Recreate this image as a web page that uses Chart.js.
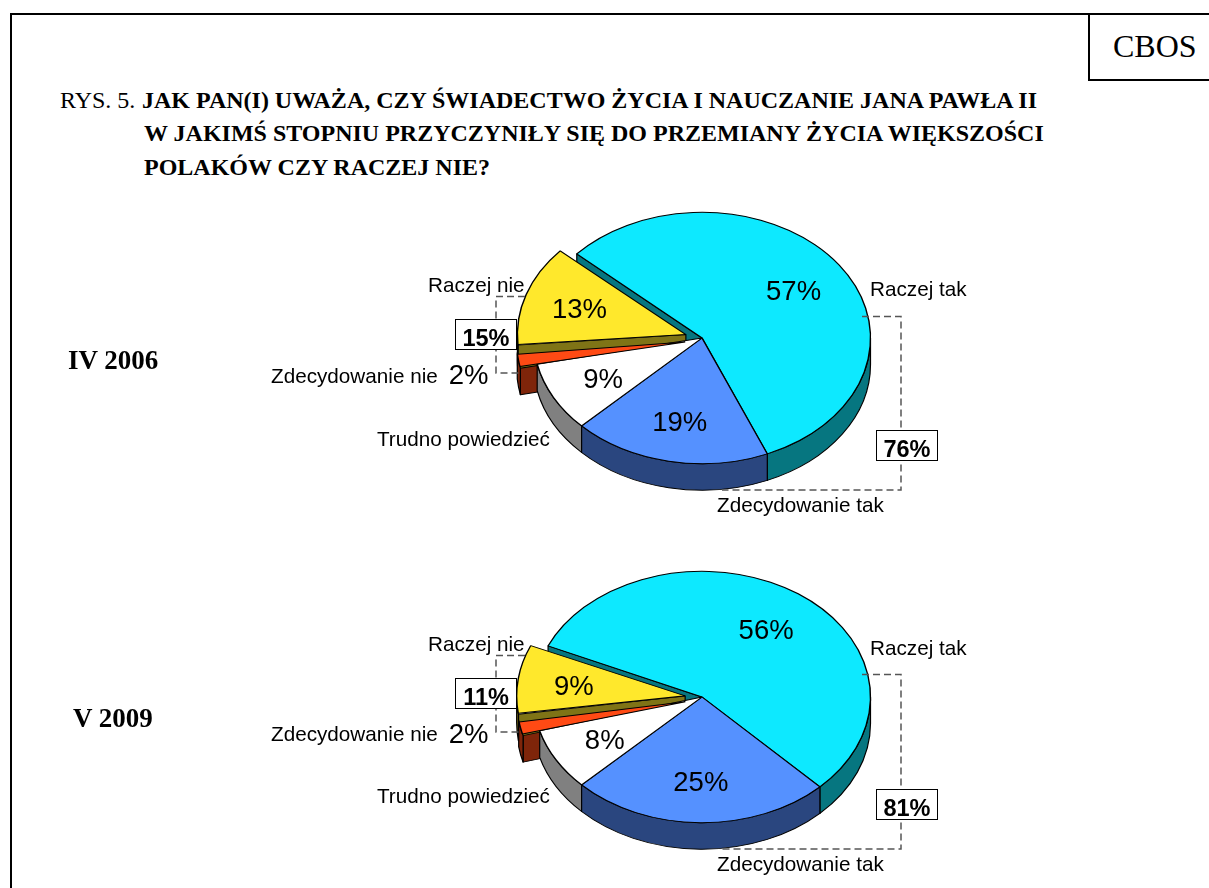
<!DOCTYPE html>
<html lang="pl">
<head>
<meta charset="utf-8">
<title>CBOS RYS. 5</title>
<script src="https://cdn.jsdelivr.net/npm/chart.js@4/dist/chart.umd.min.js"></script>
<style>
html,body{margin:0;padding:0;background:#fff;width:1209px;height:888px;overflow:hidden}
#page{position:relative;width:1209px;height:888px;overflow:hidden}
canvas{position:absolute;left:0}
.rule{position:absolute;background:#000}
.t{position:absolute;white-space:nowrap;transform:translateY(-50%);color:#000;line-height:1}
.serif{font-family:"Liberation Serif",serif}
.sans{font-family:"Liberation Sans",sans-serif}
.head{font-size:24px}
.head b{font-weight:bold}
.cat{font-size:20.7px}
.period{font-size:27px;font-weight:bold}
.box{position:absolute;width:60px;height:29px;border:1px solid #000;background:#fff;font:bold 23.5px/37px "Liberation Sans",sans-serif;text-align:center;color:#000}
svg{position:absolute;left:0;top:0}
</style>
</head>
<body>
<div id="page">
  <div class="rule" style="left:10px;top:13px;width:1199px;height:2px"></div>
  <div class="rule" style="left:10px;top:13px;width:2px;height:875px"></div>
  <div class="rule" style="left:1088px;top:13px;width:2px;height:67px"></div>
  <div class="rule" style="left:1088px;top:79px;width:121px;height:2px"></div>
  <div class="t serif" style="left:1113px;top:46px;font-size:32px">CBOS</div>
  <div class="t serif head" style="left:60px;top:100px">RYS. 5.</div>
  <div class="t serif head" style="left:142px;top:100px"><b>JAK PAN(I) UWAŻA, CZY ŚWIADECTWO ŻYCIA I NAUCZANIE JANA PAWŁA II</b></div>
  <div class="t serif head" style="left:144px;top:133px"><b>W JAKIMŚ STOPNIU PRZYCZYNIŁY SIĘ DO PRZEMIANY ŻYCIA WIĘKSZOŚCI</b></div>
  <div class="t serif head" style="left:144px;top:167px"><b>POLAKÓW CZY RACZEJ NIE?</b></div>
  <canvas id="pie2006" width="1209" height="440" style="top:100px;width:1209px;height:440px"></canvas>
  <canvas id="pie2009" width="1209" height="429" style="top:459px;width:1209px;height:429px"></canvas>
  <svg id="brackets" width="1209" height="888" fill="none" stroke="#555" stroke-width="1.5" stroke-dasharray="7 4"></svg>
  <div id="overlay"></div>
</div>
<script>
const categories = ['Raczej tak', 'Zdecydowanie tak', 'Trudno powiedzieć', 'Zdecydowanie nie', 'Raczej nie'];
const periods = ['IV 2006', 'V 2009'];
const values2006 = [57, 19, 9, 2, 13];
const values2009 = [56, 25, 8, 2, 9];
const yesTotals = [76, 81];
const noTotals = [15, 11];

const topColors = ['#0de9ff', '#5591ff', '#ffffff', '#ff4a14', '#ffe82c'];
const wallColors = ['#067680', '#2a467f', '#808080', '#7f250a', '#7f7416'];
const explode = [0, 0, 0, 68, 68];
const dropAfterExplode = [0, 0, 0, 2.2, 0.6];
const R = 168.5, K = 0.746, DEPTH = 26.5, CX = 702, CY = 238;
const wallOrder = [0, 4, 3, 2, 1];
const TAU = Math.PI * 2;

function centre(el) {
  const off = (el.options.offset || 0) / 4;
  const mid = (el.startAngle + el.endAngle) / 2;
  return { x: el.x + Math.cos(mid) * off, y: el.y + Math.sin(mid) * off, mid };
}

const pie3d = {
  id: 'pie3d',
  afterDatasetsUpdate(chart) {
    chart.getDatasetMeta(0).data.forEach((el, i) => {
      const off = explode[i] / 4;
      const fix = 1 - Math.sin(Math.min(Math.PI, el.endAngle - el.startAngle));
      el.outerRadius = R - off * fix;
      el.y += dropAfterExplode[i] / K;
    });
  },
  beforeDatasetsDraw(chart) {
    const ctx = chart.ctx, arcs = chart.getDatasetMeta(0).data;
    ctx.save();
    ctx.translate(CX, CY); ctx.scale(1, K); ctx.translate(-CX, -CY);
    const d = DEPTH / K;
    ctx.lineWidth = 1.2; ctx.strokeStyle = '#000'; ctx.lineJoin = 'round';
    wallOrder.forEach(i => {
      const el = arcs[i], c = centre(el);
      ctx.fillStyle = wallColors[i];
      const radial = t => {
        const px = c.x + Math.cos(t) * R, py = c.y + Math.sin(t) * R;
        ctx.beginPath(); ctx.moveTo(c.x, c.y); ctx.lineTo(px, py);
        ctx.lineTo(px, py + d); ctx.lineTo(c.x, c.y + d); ctx.closePath();
        ctx.fill(); ctx.stroke();
      };
      if (Math.cos(el.startAngle) < 0) radial(el.startAngle);
      if (Math.cos(el.endAngle) > 0) radial(el.endAngle);
      for (let n = -1; n <= 1; n++) {
        const a = Math.max(el.startAngle, n * TAU), b = Math.min(el.endAngle, n * TAU + Math.PI);
        if (b > a) {
          ctx.beginPath(); ctx.arc(c.x, c.y, R, a, b);
          ctx.arc(c.x, c.y + d, R, b, a, true); ctx.closePath();
          ctx.fill(); ctx.stroke();
        }
      }
    });
  },
  afterDatasetsDraw(chart) {
    const ctx = chart.ctx, arcs = chart.getDatasetMeta(0).data;
    ctx.restore();
    ctx.save();
    ctx.font = '27.5px "Liberation Sans", sans-serif';
    ctx.fillStyle = '#000'; ctx.textAlign = 'center'; ctx.textBaseline = 'middle';
    chart.data.datasets[0].data.forEach((v, i) => {
      const c = centre(arcs[i]);
      let x = c.x + Math.cos(c.mid) * R * 2 / 3;
      let y = CY + (c.y - CY + Math.sin(c.mid) * R * 2 / 3) * K + 2;
      if (i === 3) { x = CX - 233.5; y = CY + 37; }
      ctx.fillText(v + '%', x, y + 1);
    });
    ctx.restore();
  }
};

function makePie(id, values, rotation, height) {
  return new Chart(document.getElementById(id), {
    type: 'pie',
    data: {
      labels: categories,
      datasets: [{
        data: values, backgroundColor: topColors, borderColor: '#000', borderWidth: 1.4,
        offset: explode, radius: R, hoverOffset: 0, clip: false
      }]
    },
    options: {
      responsive: false, animation: false, events: [], rotation,
      layout: { padding: { left: CX - 100, right: 1209 - CX - 100, top: CY - 100, bottom: height - CY - 100 } },
      plugins: { legend: { display: false }, tooltip: { enabled: false }, title: { display: false } }
    },
    plugins: [pie3d]
  });
}
makePie('pie2006', values2006, 312, 440);
makePie('pie2009', values2009, 294, 429);

/* annotations: category names, totals and dashed brackets */
const overlay = document.getElementById('overlay');
function label(cls, x, y, text) {
  const e = document.createElement('div');
  e.className = 't ' + cls; e.style.left = x + 'px'; e.style.top = y + 'px'; e.textContent = text;
  overlay.appendChild(e);
}
function box(x, y, text) {
  const e = document.createElement('div');
  e.className = 'box'; e.style.left = x + 'px'; e.style.top = y + 'px'; e.textContent = text;
  overlay.appendChild(e);
}
const svg = document.getElementById('brackets');
function bracket(d) {
  const p = document.createElementNS('http://www.w3.org/2000/svg', 'path');
  p.setAttribute('d', d); svg.appendChild(p);
}
[0, 359].forEach((dy, n) => {
  label('sans cat', 870, 289 + dy, categories[0]);
  label('sans cat', 717, 505 + dy, categories[1]);
  label('sans cat', 377, 439 + dy - (n ? 2 : 0), categories[2]);
  label('sans cat', 271, 376 + dy - (n ? 1 : 0), categories[3]);
  label('sans cat', 428, 285 + dy, categories[4]);
  label('serif period', n ? 73 : 68, 359.5 + dy - (n ? 1 : 0), periods[n]);
  bracket(`M862 ${316.5 + dy - (n ? 1 : 0)}H901V${490 + dy}H722`);
  bracket(`M525 ${296.5 + dy}H496V${373 + dy}H521`);
  box(876, 430 + dy, yesTotals[n] + '%');
  box(455, 319 + dy, noTotals[n] + '%');
});
</script>
</body>
</html>
